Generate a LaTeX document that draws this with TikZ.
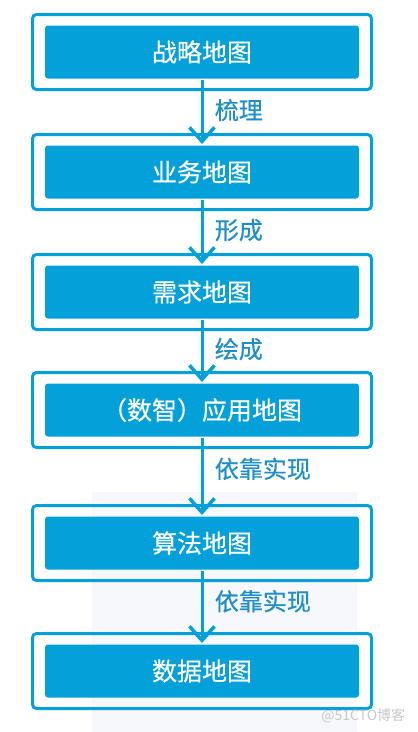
\documentclass[tikz,border=0pt]{standalone}
\usepackage{fontspec}
\setmainfont{Noto Sans CJK SC}
\newfontfamily\mapfont[FakeBold=0.5]{Noto Sans CJK SC}
\usetikzlibrary{positioning, arrows.meta, fit}
\definecolor{mapblue}{RGB}{4,160,218}
\definecolor{labelblue}{RGB}{30,142,200}
\definecolor{shadegray}{RGB}{246,248,251}
\definecolor{markgray}{RGB}{200,200,200}

\tikzset{
	mapbox/.style={fill=mapblue, text=white, rounded corners=3pt, minimum width=314pt, minimum height=53pt, inner sep=0pt, font=\mapfont\fontsize{25}{25}\selectfont},
	mapframe/.style={draw=mapblue, line width=3pt, rounded corners=4pt, inner xsep=11pt, inner ysep=9.5pt},
	steplabel/.style={right, xshift=8pt, text=labelblue, font=\mapfont\fontsize{24}{24}\selectfont}
}

\begin{document}
\begin{tikzpicture}[x=1pt, y=1pt, node distance=120pt, -{Straight Barb[length=14pt, width=25pt, line width=3.5pt]}, line width=3pt, draw=mapblue]

	\useasboundingbox (0,0) rectangle (418,-732);
	\fill[shadegray, draw=none] (92,-492) rectangle (357,-732);

	\node (b1) [mapbox] at (202,-52) {战略地图};
	\node (b2) [mapbox, below of=b1] {业务地图};
	\node (b3) [mapbox, below of=b2] {需求地图};
	\node (b4) [mapbox, below of=b3, node distance=118pt] {（数智）应用地图};
	\node (b5) [mapbox, below of=b4, node distance=133pt] {算法地图};
	\node (b6) [mapbox, below of=b5, node distance=128pt] {数据地图};

	\foreach \n in {1,...,6}
		\node (f\n) [mapframe, fit=(b\n), -] {};

	\path
		(b1) edge node[steplabel, pos=0.47] {梳理} (b2)
		(b2) edge node[steplabel, pos=0.47] {形成} (b3)
		(b3) edge node[steplabel, pos=0.47] {绘成} (b4)
		(b4) edge node[steplabel, pos=0.4] {依靠实现} (b5)
		(b5) edge node[steplabel, pos=0.42] {依靠实现} (b6);

	\node (mark) [text=markgray, font=\fontsize{14}{14}\selectfont, anchor=east] at (410,-716) {@51CTO博客};

\end{tikzpicture}
\end{document}
